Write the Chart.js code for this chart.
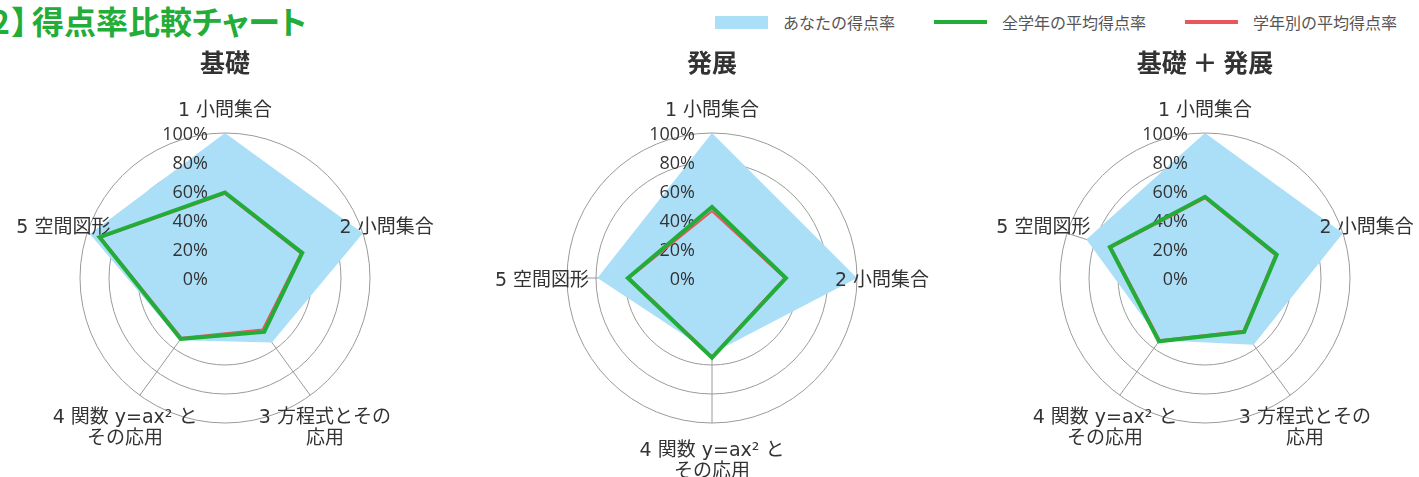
<!DOCTYPE html>
<html>
<head>
<meta charset="utf-8">
<script src="https://cdn.jsdelivr.net/npm/chart.js@4"></script>
<style>
body { margin: 0; width: 1419px; height: 477px; overflow: hidden; background: #fff; position: relative; font-family: "Noto Sans CJK JP", sans-serif; }
#title { position: absolute; left: -25px; top: 4px; font-size: 32px; line-height: 32px; font-weight: bold; color: #22ac38; white-space: nowrap; font-feature-settings: "palt"; }
#title span { margin: 0 4px 0 2px; }
#legend { position: absolute; left: 715px; top: 9px; height: 26px; display: flex; align-items: center; font-size: 16px; color: #555; white-space: nowrap; }
#legend .item { display: flex; align-items: center; margin-right: 39px; }
#legend .mark { width: 53px; margin-right: 15px; }
canvas { position: absolute; top: 0; }
</style>
</head>
<body>
<div id="title">【2<span>】</span>得点率比較チャート</div>
<div id="legend"></div>
<canvas id="c1" width="470" height="477" style="left:-10px"></canvas>
<canvas id="c2" width="470" height="477" style="left:477px"></canvas>
<canvas id="c3" width="470" height="477" style="left:970px"></canvas>
<script>
// 軸ラベル
const labels5 = ["1 小問集合", "2 小問集合", ["3 方程式とその", "応用"], ["4 関数 y=ax² と", "その応用"], "5 空間図形"];
const labels4 = ["1 小問集合", "2 小問集合", ["4 関数 y=ax² と", "その応用"], "5 空間図形"];
const tickValues = [0, 20, 40, 60, 80, 100];
const chartTitles = ["基礎", "発展", "基礎 ＋ 発展"];
const seriesNames = ["あなたの得点率", "全学年の平均得点率", "学年別の平均得点率"];
const seriesColors = ["#abdff8", "#22ac38", "#e9575c"];

// 基礎
const kisoYou = [100, 100, 55, 53, 98];
const kisoAll = [59, 56, 46, 52, 91];
const kisoGrade = [58, 55, 44, 51, 90];
// 発展
const hattenYou = [100, 100, 52, 79];
const hattenAll = [49, 51, 55, 58];
const hattenGrade = [46, 50, 54, 57];
// 基礎 + 発展
const totalYou = [100, 100, 57, 53, 86];
const totalAll = [56, 52, 46, 54, 69];
const totalGrade = [55, 51, 45, 53, 68];

// legend
const legend = document.getElementById("legend");
seriesNames.forEach((name, i) => {
	const item = document.createElement("div");
	item.className = "item";
	const mark = document.createElement("div");
	mark.className = "mark";
	mark.style.height = i == 0 ? "13px" : "4px";
	mark.style.background = seriesColors[i];
	item.appendChild(mark);
	item.appendChild(document.createTextNode(name));
	legend.appendChild(item);
});

// tick labels and axis names, drawn on top of the blue fill but under the lines
const radarText = {
	id: "radarText",
	afterDatasetDraw(chart, args) {
		if (args.index !== 0) return;
		const s = chart.scales.r;
		const ctx = chart.ctx;
		ctx.save();
		ctx.fillStyle = "#333";
		ctx.textBaseline = "middle";
		ctx.font = '18px "Open Sans", "Noto Sans CJK JP"';
		ctx.textAlign = "right";
		tickValues.forEach((v) => {
			ctx.fillText(v + "%", s.xCenter - 17, s.yCenter - s.getDistanceFromCenterForValue(v) + 2);
		});
		ctx.font = '19px "DejaVu Sans", "Noto Sans CJK JP"';
		ctx.textAlign = "center";
		chart.data.labels.forEach((lab, i) => {
			const p = s.getPointPosition(i, s.drawingArea + 25);
			[].concat(lab).forEach((t, k) => {
				ctx.fillText(t, p.x, p.y + 3 + k * 21);
			});
		});
		ctx.restore();
	},
};

function makeChart(id, title, labels, you, all, grade) {
	var ctx = document.getElementById(id).getContext("2d");
	return new Chart(ctx, {
		type: "radar",
		data: {
			labels: labels,
			datasets: [
				{
					label: seriesNames[0],
					data: you,
					backgroundColor: seriesColors[0],
					borderWidth: 0,
					fill: true,
					pointRadius: 0,
					order: 2,
				},
				{
					label: seriesNames[1],
					data: all,
					borderColor: seriesColors[1],
					borderWidth: 4,
					fill: false,
					pointRadius: 0,
					order: 0,
				},
				{
					label: seriesNames[2],
					data: grade,
					borderColor: seriesColors[2],
					borderWidth: 2,
					fill: false,
					pointRadius: 0,
					order: 1,
				},
			],
		},
		options: {
			responsive: false,
			animation: false,
			layout: { padding: { top: 0, bottom: 54, left: 0, right: 0 } },
			plugins: {
				legend: { display: false },
				tooltip: { enabled: false },
				title: {
					display: true,
					text: title,
					color: "#333",
					font: { size: 25, weight: "bold", family: '"Noto Sans CJK JP"' },
					padding: { top: 47, bottom: 56 },
				},
			},
			scales: {
				r: {
					min: 0,
					max: 100,
					ticks: { display: false, stepSize: 20 },
					pointLabels: { display: false },
					grid: { circular: true, color: "#9a9a9a", lineWidth: 1 },
					angleLines: { color: "#9a9a9a", lineWidth: 1 },
				},
			},
		},
		plugins: [radarText],
	});
}

makeChart("c1", chartTitles[0], labels5, kisoYou, kisoAll, kisoGrade);
makeChart("c2", chartTitles[1], labels4, hattenYou, hattenAll, hattenGrade);
makeChart("c3", chartTitles[2], labels5, totalYou, totalAll, totalGrade);
</script>
</body>
</html>
